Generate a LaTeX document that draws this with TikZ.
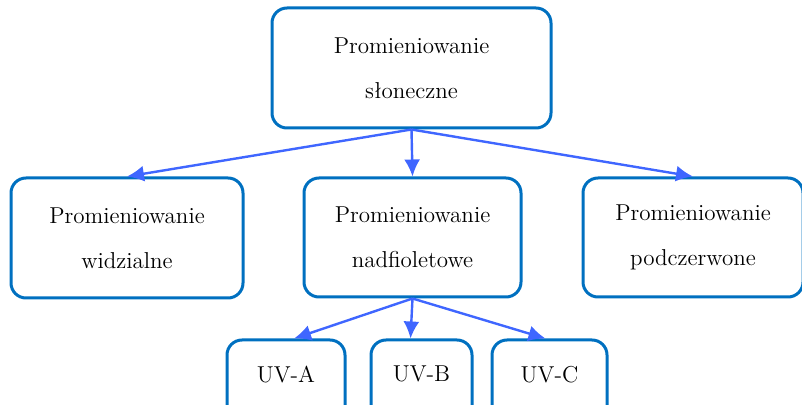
\documentclass[tikz,border=0pt]{standalone}
\usetikzlibrary{arrows.meta}
\definecolor{boxblue}{HTML}{0070C0}
\definecolor{arrblue}{HTML}{3F66FF}
\tikzset{
  box/.style={draw=boxblue, line width=1.5pt, rounded corners=7.5pt, align=center,
    font=\fontsize{11.5}{22.5}\selectfont, inner sep=0pt},
  arr/.style={draw=arrblue, line width=1.2pt, -{Latex[length=8.5pt,width=8pt]}}
}
\begin{document}
\begin{tikzpicture}[x=0.5pt,y=-0.5pt]
\useasboundingbox (0,0) rectangle (802,405);
\begin{scope}
\clip (0,0) rectangle (802,405);
\node[box, minimum width=139.5pt, minimum height=60pt] (sun) at (411.5,68) {Promieniowanie\\s\l{}oneczne};
\node[box, minimum width=116pt, minimum height=60pt] (vis) at (127,238) {Promieniowanie\\widzialne};
\node[box, minimum width=108.5pt, minimum height=59.5pt] (uv) at (412.5,237.5) {Promieniowanie\\nadfioletowe};
\node[box, minimum width=110pt, minimum height=59.5pt] (ir) at (693,237.5) {Promieniowanie\\podczerwone};
\node[box, minimum width=59pt, minimum height=42pt, text depth=8pt] (uva) at (286,382) {UV-A};
\node[box, minimum width=50.5pt, minimum height=42pt, text depth=8pt] (uvb) at (421.5,382) {UV-B};
\node[box, minimum width=57.5pt, minimum height=42pt, text depth=8pt] (uvc) at (549.5,382) {UV-C};
\end{scope}

\path[arr] (sun.south) -- (vis.north);
\path[arr] (sun.south) -- (uv.north);
\path[arr] (sun.south) -- (ir.north);
\path[arr] (uv.south) -- ([xshift=4pt]uva.north);
\path[arr] (uv.south) -- ([xshift=-5.5pt]uvb.north);
\path[arr] (uv.south) -- ([xshift=-2pt]uvc.north);
\end{tikzpicture}
\end{document}
